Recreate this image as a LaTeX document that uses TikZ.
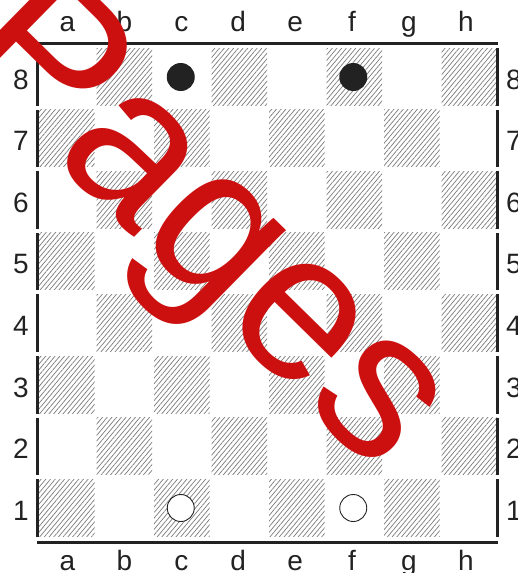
\documentclass[tikz,border=0pt]{standalone}
\usepackage{fontspec}
\setmainfont{Liberation Sans}
\newfontfamily\wmfont[Kerning=Off]{Liberation Sans}
\usetikzlibrary{patterns.meta}
\definecolor{wmred}{HTML}{CC1010}
\definecolor{hatch}{HTML}{7A7A7A}
\definecolor{ink}{HTML}{222222}

\begin{document}
\begin{tikzpicture}[x=1pt,y=-1pt,
  border/.style={ink,line width=3pt},
  darksq/.style={pattern={Lines[angle=50,distance=3.6pt,line width=0.7pt]},pattern color=hatch},
  lbl/.style={font=\fontsize{28}{28}\selectfont,text=ink,inner sep=0pt,anchor=base},
  blackman/.style={circle,fill=ink,minimum size=28pt,inner sep=0pt},
  whiteman/.style={circle,draw=ink,fill=white,line width=0.9pt,minimum size=27pt,inner sep=0pt},
  wmark/.style={text=wmred,font=\wmfont\fontsize{211}{211}\selectfont,inner sep=0pt,anchor=base}]
  \useasboundingbox (0,0) rectangle (518,573);
  % squares
  \foreach \c in {0,...,7} {
    \foreach \r in {1,...,8} {
      \pgfmathsetmacro{\x}{37+57.5*\c}
      \pgfmathsetmacro{\y}{48+61.6*(8-\r)}
      \pgfmathtruncatemacro{\s}{\c+\r}
      \ifodd\s
        \fill[darksq] (\x+2,\y) rectangle (\x+57.5,\y+57);
      \fi
    }
  }
  % frame
  \draw[border] (37,43) -- (498,43);
  \draw[border] (37,542) -- (498,542);
  \foreach \r in {1,...,8} {
    \pgfmathsetmacro{\y}{48+61.6*(8-\r)}
    \draw[border] (37,\y) -- (37,\y+57.5);
    \draw[border] (497,\y) -- (497,\y+57.5);
    \node[lbl] (left\r) at (21,\y+41) {\r};
    \node[lbl] (right\r) at (514,\y+41) {\r};
  }
  \foreach \l [count=\i from 0] in {a,b,c,d,e,f,g,h} {
    \pgfmathsetmacro{\x}{67.5+56.9*\i}
    \node[lbl] (top\l) at (\x,31) {\l};
    \node[lbl] (bot\l) at (\x,570) {\l};
  }
  % men
  \node[blackman] (c8) at (180.75,77) {};
  \node[blackman] (f8) at (353.25,77) {};
  \node[whiteman] (c1) at (180.75,508) {};
  \node[whiteman] (f1) at (353.25,508) {};
  % watermark
  \node[wmark,rotate=-44.5] (pages) at (163.7,266.1) {Pages};
\end{tikzpicture}
\end{document}
